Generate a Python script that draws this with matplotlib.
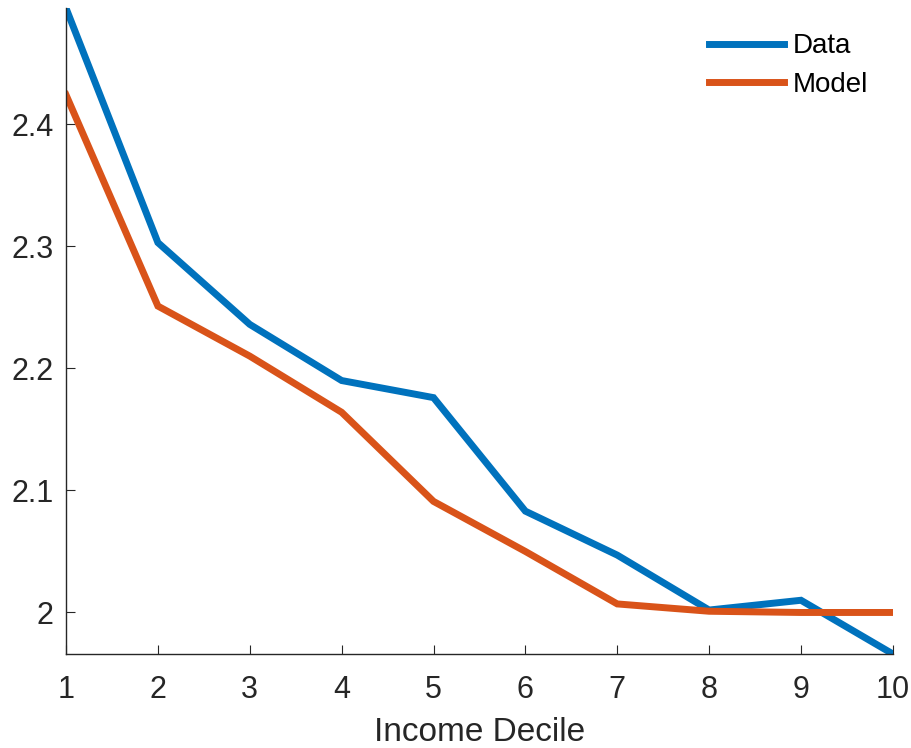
import numpy as np
import matplotlib.pyplot as plt

# 收入十分位
deciles = [1, 2, 3, 4, 5, 6, 7, 8, 9, 10]
data_vals = [2.495, 2.303, 2.236, 2.190, 2.176, 2.083, 2.047, 2.002, 2.010, 1.966]
model_vals = [2.424, 2.251, 2.210, 2.164, 2.091, 2.050, 2.007, 2.001, 2.000, 2.000]
yticks = [2.0, 2.1, 2.2, 2.3, 2.4]
ytick_labels = ['2', '2.1', '2.2', '2.3', '2.4']

plt.rcParams['font.family'] = ['Liberation Sans', 'DejaVu Sans']

fig = plt.figure(figsize=(9.12, 7.48), dpi=100)
ax = fig.add_axes([0.0724, 0.1257, 0.9066, 0.8633])

ax.plot(deciles, data_vals, color='#0072BD', lw=5, label='Data', solid_joinstyle='miter')
ax.plot(deciles, model_vals, color='#D95319', lw=5, label='Model', solid_joinstyle='miter')

ax.set_xlim(1, 10)
ax.set_ylim(min(data_vals), max(data_vals))
ax.set_xticks(deciles)
ax.set_yticks(yticks)
ax.set_yticklabels(ytick_labels)

for side in ['top', 'right']:
    ax.spines[side].set_visible(False)
for side in ['left', 'bottom']:
    ax.spines[side].set_color('#262626')
    ax.spines[side].set_linewidth(1.0)

ax.tick_params(direction='in', length=6.5, width=0.8, colors='#262626',
               labelsize=22)
ax.tick_params(axis='x', pad=15)
ax.tick_params(axis='y', pad=9)
ax.set_xlabel('Income Decile', fontsize=24, color='#262626', labelpad=9)

leg = ax.legend(loc='upper right', frameon=False, fontsize=20, handlelength=2.7,
                handletextpad=0.3, labelspacing=0.45, bbox_to_anchor=(1.0, 1.0))
for t in leg.get_texts():
    t.set_color('#000000')

fig.savefig('out.png', dpi=100)
